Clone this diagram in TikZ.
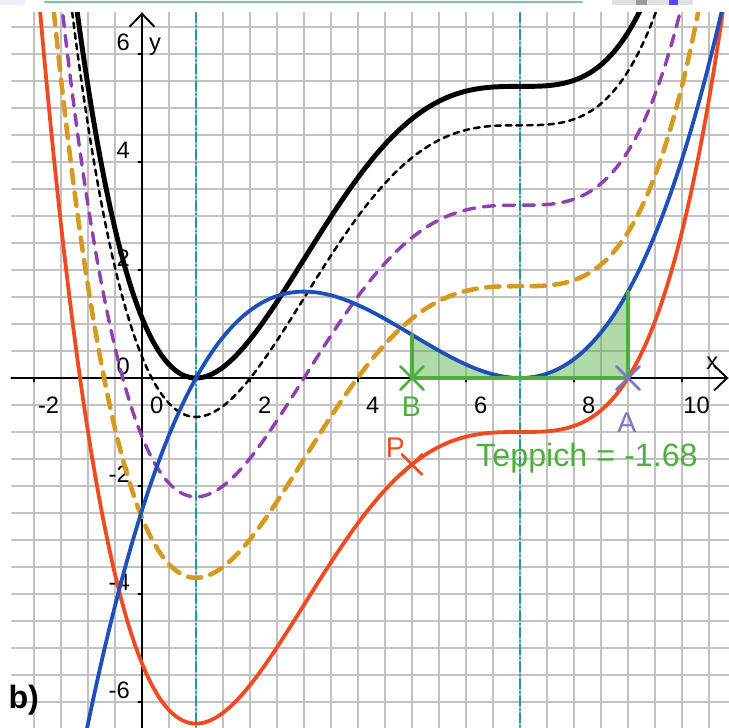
\documentclass[tikz,border=0pt]{standalone}
\usepackage{fontspec}
\setmainfont{Liberation Sans}
\usetikzlibrary{arrows.meta,shapes.misc}

\definecolor{rotF}{HTML}{F04A23}
\definecolor{blauf}{HTML}{1F4FB8}
\definecolor{lila}{HTML}{8E3FB0}
\definecolor{ocker}{HTML}{D69A22}
\definecolor{tuerkis}{HTML}{12A09A}
\definecolor{gruen}{HTML}{4FAF3E}
\definecolor{blaugrau}{HTML}{7878C4}
\definecolor{lavendel}{HTML}{EEEEFA}
\definecolor{randtk}{HTML}{78C4AE}

\begin{document}
\begin{tikzpicture}[
  line cap=round,
  line join=round,
  declare function={
    ff(\t)=0.05*(\t-1)*(\t-7)*(\t-7);
    FF(\t)=0.05*((\t-7)*(\t-7)*(\t-7)*(\t-7)/4+2*(\t-7)*(\t-7)*(\t-7)-20);
  },
  gitter/.style={black!24, line width=0.6pt},
  achse/.style={line width=1pt, -{Straight Barb[length=2.4mm,width=4.6mm]}},
  zahl/.style={inner sep=0pt, font=\fontsize{12.5}{14}\selectfont},
  symm/.style={tuerkis, line width=1.1pt, dash pattern=on 5pt off 1.8pt on 0.4pt off 1.8pt},
  kurve/.style={samples=250, domain=-2.3:10.9},
  kreuz/.style={cross out, draw, line width=1.4pt, minimum size=0.38cm, inner sep=0pt},
  punkt/.style={inner sep=0pt, font=\fontsize{15}{17}\selectfont}
]
  \useasboundingbox (-2.63,-6.481) rectangle (10.87,7.0);

  % Reste oben
  \fill[lavendel] (-2.63,6.91) rectangle (-2.17,7.0);
  \fill[black!3] (-1.80,6.965) rectangle (8.15,7.0);
  \draw[randtk, line width=1.1pt] (-1.80,6.965) -- (8.15,6.965);
  \fill[black!12] (8.7,6.9) rectangle (10.2,7.0);
  \fill[black!40] (9.15,6.9) rectangle (9.35,7.0);
  \fill[blue!70] (9.75,6.9) rectangle (9.92,7.0);

  % Gitter
  \begin{scope}
    \clip (-2.42,-6.49) rectangle (10.87,6.76);
    \draw[gitter, step=0.5] (-2.5,-6.5) grid (11,7);
  \end{scope}

  % Punkte
  \coordinate (B)  at (5,0);
  \coordinate (A)  at (9,0);
  \coordinate (Bo) at (5,{ff(5)});
  \coordinate (Ao) at (9,{ff(9)});
  \coordinate (P)  at (5,{FF(5)});

  % Teppich
  \fill[gruen, opacity=0.45] (B) -- plot[domain=5:9, samples=60] (\x,{ff(\x)}) -- (A) -- cycle;

  % Achsen
  \coordinate (xl) at (-2.42,0);
  \coordinate (xr) at (10.86,0);
  \coordinate (yu) at (0,-6.49);
  \coordinate (yo) at (0,6.77);
  \draw[achse] (xl) -- (xr);
  \draw[achse] (yu) -- (yo);
  \foreach \k in {-2,2,4,6,8,10}
    \draw[line width=0.8pt] (\k,0) -- (\k,-0.07);
  \foreach \k in {-6,-4,-2,2,4,6}
    \draw[line width=0.8pt] (0,\k) -- (-0.07,\k);
  \foreach \k in {-2,0,2,4,6,8,10}
    \node[zahl] (xt\k) at (\k+0.27,-0.5) {\k};
  \foreach \k in {-6,-4,-2,0,2,4,6}
    \node[zahl, anchor=east] (yt\k) at (-0.22,\k+0.22) {\k};
  \node[zahl] (xn) at (10.56,0.28) {x};
  \node[zahl] (yn) at (0.24,6.13) {y};

  % Symmetrielinien
  \coordinate (s1o) at (1,6.76);
  \coordinate (s1u) at (1,-6.49);
  \coordinate (s7o) at (7,6.76);
  \coordinate (s7u) at (7,-6.49);
  \draw[symm] (s1o) -- (s1u);
  \draw[symm] (s7o) -- (s7u);

  % Stammfunktionen und Ableitung
  \begin{scope}
    \clip (-2.63,-6.49) rectangle (10.87,6.76);
    \draw[ocker, line width=2.4pt, dash pattern=on 7pt off 5pt] plot[kurve] (\x,{FF(\x)+2.7});
    \draw[lila, line width=1.8pt, dash pattern=on 6pt off 4.5pt] plot[kurve] (\x,{FF(\x)+4.2});
    \draw[black, line width=1.3pt, dash pattern=on 3pt off 2.6pt] plot[kurve] (\x,{FF(\x)+5.68});
    \draw[black, line width=2.6pt] plot[kurve] (\x,{FF(\x)+6.4});
    \draw[rotF, line width=2pt] plot[kurve] (\x,{FF(\x)});
    \draw[blauf, line width=2pt] plot[kurve] (\x,{ff(\x)});
  \end{scope}

  % Rand vom Teppich
  \draw[gruen, line width=1.8pt] (Bo) -- (B) -- (A) -- (Ao);

  % Markierungen
  \node[kreuz, gruen] (kB) at (B) {};
  \node[kreuz, blaugrau] (kA) at (A) {};
  \node[kreuz, rotF, minimum size=0.32cm] (kP) at (P) {};
  \node[punkt, text=gruen] (lB) at (4.99,-0.54) {B};
  \node[punkt, text=blaugrau] (lA) at (8.98,-0.82) {A};
  \node[punkt, text=rotF] (lP) at (4.69,-1.29) {P};
  \node[inner sep=0pt, text=gruen, font=\fontsize{17}{20}\selectfont] (tep) at (8.24,-1.48) {Teppich = -1.68};

  \node[inner sep=0pt, font=\bfseries\fontsize{17}{20}\selectfont] (teil) at (-2.19,-5.96) {b)};
\end{tikzpicture}
\end{document}
